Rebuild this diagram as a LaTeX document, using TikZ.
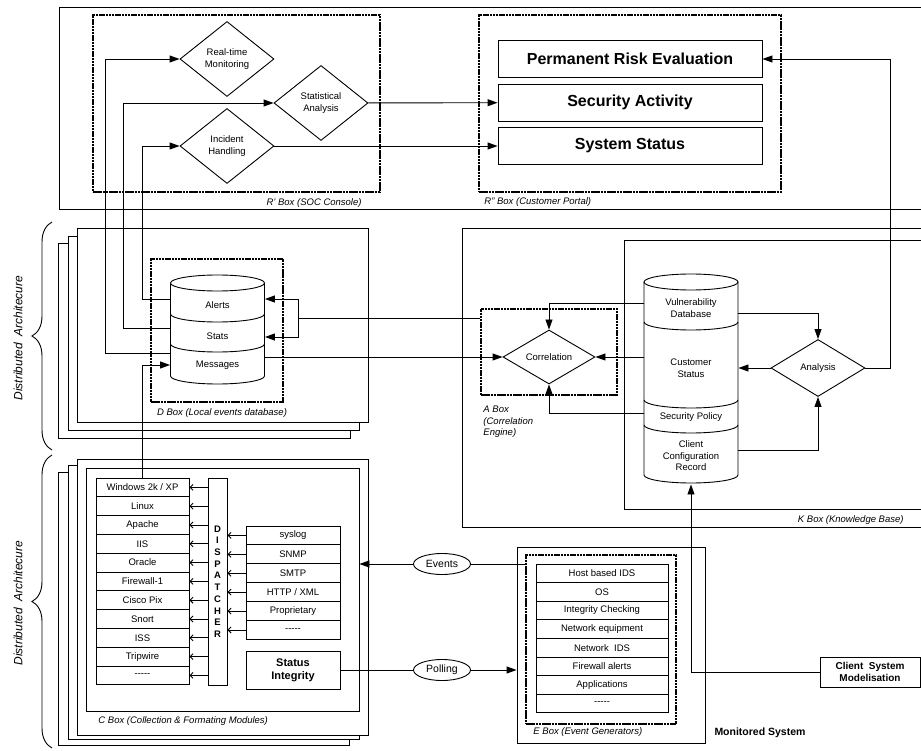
\documentclass[tikz,border=0pt]{standalone}
\usepackage{fontspec}
\setmainfont{Liberation Sans}
\usetikzlibrary{arrows.meta,positioning,shapes.geometric,decorations.pathreplacing}
\newcommand{\blankrow}{-{}-{}-{}-{}-}

\begin{document}
\begin{tikzpicture}[x=1pt,y=-1pt,line width=0.9pt,
  >={Triangle[length=10pt,width=7pt]},
  every node/.style={font=\fontsize{9.5}{11.5}\selectfont,align=center,inner sep=1pt},
  frame/.style={draw,fill=white},
  dotframe/.style={draw,line width=2pt,dash pattern=on 2.5pt off 0.7pt},
  decision/.style={diamond,draw,fill=white,inner sep=0pt,minimum width=94pt,minimum height=75pt},
  panel/.style={draw,fill=white,minimum width=264pt,minimum height=37pt,font=\fontsize{16}{18}\selectfont\bfseries},
  cell/.style={draw,fill=white,inner sep=0pt,minimum width=93pt,minimum height=18.8pt},
  evcell/.style={draw,fill=white,inner sep=0pt,minimum width=132pt,minimum height=18.6pt},
  layer/.style={inner sep=0pt,minimum width=94pt},
  boxlabel/.style={font=\fontsize{9.5}{11.5}\selectfont\itshape},
  bigbold/.style={font=\fontsize{10.5}{12.5}\selectfont\bfseries},
  msg/.style={ellipse,draw,fill=white,inner sep=0pt,minimum width=57pt,minimum height=21pt,font=\fontsize{10.5}{12}\selectfont},
  feed/.style={-{Straight Barb[length=3pt,width=6pt]}},
  disc/.style={x radius=47pt,y radius=8pt}]

  \useasboundingbox (0,0) rectangle (921,751);

  \draw (923,7) -- (59,7) -- (59,209) -- (923,209);
  \node[dotframe,minimum width=287pt,minimum height=177pt] (rone) at (236.5,103.5) {};
  \node[dotframe,minimum width=302pt,minimum height=177pt] (rtwo) at (630,103.5) {};
  \node[boxlabel,anchor=east] (ronelbl) at (363,203) {R' Box (SOC Console)};
  \node[boxlabel,anchor=west] (rtwolbl) at (483,202) {R'' Box (Customer Portal)};

  \node[decision] (rtm)  at (227,59)  {Real-time\\Monitoring};
  \node[decision] (stat) at (321,103) {Statistical\\Analysis};
  \node[decision] (inc)  at (227,146) {Incident\\Handling};

  \node[panel] (risk)    at (630,59)    {Permanent Risk Evaluation};
  \node[panel] (secact)  at (630,102.5) {Security Activity};
  \node[panel] (sysstat) at (630,146)   {System Status};

  \draw[frame] (58,243) rectangle (350,438);
  \draw[frame] (68,236) rectangle (359,430);
  \draw[frame] (77,228) rectangle (368,422);
  \node[dotframe,minimum width=132pt,minimum height=143pt] (dbox) at (217,330.5) {};
  \node[boxlabel] (dlbl) at (222,413) {D Box (Local events database)};
  \draw[fill=white] (170.5,283) -- (170.5,376) arc[start angle=180,end angle=360,disc] -- (264.5,283);
  \draw[fill=white] (217.5,283) ellipse[disc];
  \foreach \yy in {314,344}
    \draw (170.5,\yy) arc[start angle=180,end angle=360,disc];
  \node[layer] (alerts)   at (217.5,305) {Alerts};
  \node[layer] (stats)    at (217.5,336) {Stats};
  \node[layer] (messages) at (217.5,365) {Messages};

  \draw (923,228) -- (462,228) -- (462,527) -- (923,527);
  \draw (923,240) -- (624,240) -- (624,509) -- (923,509);
  \node[boxlabel,anchor=east] (klbl) at (905,520) {K Box (Knowledge Base)};
  \node[dotframe,minimum width=136pt,minimum height=86pt] (abox) at (549,352) {};
  \node[boxlabel,anchor=north west,align=left] (albl) at (482,405) {A Box\\(Correlation\\Engine)};
  \node[decision,minimum width=92pt,minimum height=54pt] (corr) at (549,357) {Correlation};

  \draw[fill=white] (644,282) -- (644,475) arc[start angle=180,end angle=360,disc] -- (738,282);
  \draw[fill=white] (691,282) ellipse[disc];
  \foreach \yy in {322,400,425}
    \draw (644,\yy) arc[start angle=180,end angle=360,disc];
  \node[layer] (vuln)   at (691,308) {Vulnerability\\Database};
  \node[layer] (cust)   at (691,368) {Customer\\Status};
  \node[layer] (policy) at (691,417) {Security Policy};
  \node[layer,minimum height=56pt] (ccr) at (691,456) {Client\\Configuration\\Record};
  \node[decision,minimum height=57pt] (analysis) at (818,368) {Analysis};

  \draw[frame] (58,472) rectangle (349,745);
  \draw[frame] (68,465) rectangle (359,739);
  \draw[frame] (77,459) rectangle (368,735);
  \node[draw,minimum width=273pt,minimum height=243pt] (cin) at (222.5,589.5) {};
  \node[boxlabel,anchor=west] (clbl) at (97,721) {C Box (Collection \& Formating Modules)};
  \foreach \lbl [count=\i] in {{Windows 2k / XP},Linux,Apache,IIS,Oracle,Firewall-1,{Cisco Pix},Snort,ISS,Tripwire,\blankrow}
    \node[cell] (src\i) at (142.5,{478+18.8*(\i-0.5)}) {\lbl};
  \node[draw,fill=white,minimum width=19pt,minimum height=207pt,inner sep=0pt,
        font=\fontsize{9.5}{11.7}\selectfont\bfseries] (dispatcher) at (217.5,581.5) {D\\I\\S\\P\\A\\T\\C\\H\\E\\R};
  \foreach \lbl [count=\i] in {syslog,SNMP,SMTP,{HTTP / XML},Proprietary,\blankrow}
    \node[cell,minimum width=94pt,minimum height=18.9pt] (proto\i) at (293,{526+18.9*(\i-0.5)}) {\lbl};
  \node[draw,fill=white,minimum width=94pt,minimum height=38pt,
        font=\fontsize{11}{13}\selectfont\bfseries] (statint) at (293,670) {Status\\Integrity};

  \node[draw,minimum width=188pt,minimum height=196pt] (eout) at (611,645) {};
  \node[dotframe,minimum width=150pt,minimum height=169pt] (edots) at (601,639.5) {};
  \foreach \lbl [count=\i] in {Host based IDS,OS,Integrity Checking,Network equipment,{Network\ \ IDS},Firewall alerts,Applications,\blankrow}
    \node[evcell] (gen\i) at (602,{564+18.6*(\i-0.5)}) {\lbl};
  \node[boxlabel,anchor=west] (elbl) at (532,732) {E Box (Event Generators)};
  \node[bigbold] (monsys) at (760,733) {Monitored System};
  \node[draw,fill=white,minimum width=100pt,minimum height=30pt,
        font=\fontsize{10}{12}\selectfont\bfseries] (csm) at (870,672) {Client\ \ System\\Modelisation};
  \node[msg] (events)  at (442,564) {Events};
  \node[msg] (polling) at (442,670) {Polling};

  \draw[decorate,decoration={brace,amplitude=20pt}] (52,450) -- (52,222);
  \draw[decorate,decoration={brace,amplitude=20pt}] (52,748) -- (52,455);
  \node[rotate=90,font=\fontsize{12}{14}\selectfont\itshape] (distup) at (18,338) {Distributed\ \ Architecure};
  \node[rotate=90,font=\fontsize{12}{14}\selectfont\itshape] (distlow) at (18,603) {Distributed\ \ Architecure};

  \draw[->] ([yshift=6pt]alerts.west) -| ([xshift=-37pt]inc.west) -- (inc.west);
  \draw[->] ([yshift=8pt]stats.west) -| ([xshift=-150pt]stat.west) -- (stat.west);
  \draw[->] ([yshift=12pt]messages.west) -| ([xshift=-74pt]rtm.west) -- (rtm.west);
  \draw[->] (src1.north) |- (messages.west);
  \path[->] (stat) edge (secact)
            (inc)  edge (sysstat);
  \draw[->] (analysis.east) -| ([xshift=128pt]risk.east) -- (risk.east);

  \coordinate (dsplit) at (298,318);
  \draw (abox.west |- dsplit) -- (dsplit);
  \draw[->] (dsplit) |- ([yshift=6pt]alerts.east);
  \draw[->] (dsplit) |- ([yshift=-1pt]stats.east);
  \draw[->] (messages.east |- corr.west) -- (corr.west);

  \draw[->] ([yshift=5pt]vuln.west) -| (corr.north);
  \draw[->] (cust.west |- corr.east) -- (corr.east);
  \draw[->] ([yshift=4pt]policy.west) -| (corr.south);
  \draw[->] ([yshift=-5pt]vuln.east) -| (analysis.north);
  \draw[->] (analysis.west) -- (cust.east);
  \draw[->] ([yshift=6pt]ccr.east) -| (analysis.south);
  \draw[->] (csm.west) -| (ccr.south);

  \foreach \i in {1,...,11}
    \draw[feed] (dispatcher.west |- src\i) -- (src\i.east);
  \foreach \i in {1,...,6}
    \draw[feed] (proto\i.west) -- (dispatcher.east |- proto\i);

  \draw (edots.west |- events) -- (events);
  \draw[->] (events) -- (cin.east |- events);
  \draw (statint.east) -- (polling);
  \draw[->] (polling) -- (eout.west |- polling);
\end{tikzpicture}
\end{document}
